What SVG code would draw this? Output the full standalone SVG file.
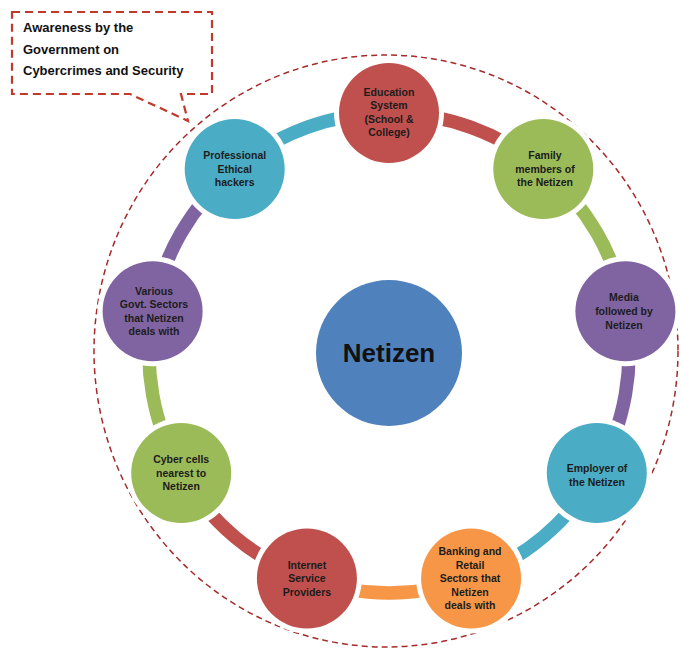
<svg xmlns="http://www.w3.org/2000/svg" width="681" height="651" viewBox="0 0 681 651">
<style>
.lbl{font-family:"Liberation Sans",Arial,sans-serif;font-weight:bold;font-size:10.5px;fill:#1c1c1c;text-anchor:middle}
.halo{fill:#ffffff}
.arc{fill:none;stroke-width:13.5}
.red{fill:#C0504D}.green{fill:#9BBB59}.purple{fill:#8064A2}.teal{fill:#4BACC6}.orange{fill:#F79646}
</style>
<rect width="681" height="651" fill="#ffffff"/>
<ellipse id="boundary" cx="386" cy="351" rx="292" ry="296" fill="none" stroke="#A52A2A" stroke-width="1.5" stroke-dasharray="6 4"/>
<g id="connectors">
<path class="arc" stroke="#4BACC6" d="M234.7,169.1 A240,240 0 0 1 389,113"/>
<path class="arc" stroke="#C0504D" d="M389,113 A240,240 0 0 1 543.3,169.1"/>
<path class="arc" stroke="#9BBB59" d="M543.3,169.1 A240,240 0 0 1 625.4,311.3"/>
<path class="arc" stroke="#8064A2" d="M625.4,311.3 A240,240 0 0 1 596.8,473"/>
<path class="arc" stroke="#4BACC6" d="M596.8,473 A240,240 0 0 1 471.1,578.5"/>
<path class="arc" stroke="#F79646" d="M471.1,578.5 A240,240 0 0 1 306.9,578.5"/>
<path class="arc" stroke="#C0504D" d="M306.9,578.5 A240,240 0 0 1 181.2,473"/>
<path class="arc" stroke="#9BBB59" d="M181.2,473 A240,240 0 0 1 152.6,311.3"/>
<path class="arc" stroke="#8064A2" d="M152.6,311.3 A240,240 0 0 1 234.7,169.1"/>
</g>
<g id="education">
<circle class="halo" cx="389" cy="113" r="55"/>
<circle class="red" cx="389" cy="113" r="50"/>
<text class="lbl"><tspan x="389" y="95.5">Education</tspan><tspan x="389" y="109">System</tspan><tspan x="389" y="122.5">(School &amp;</tspan><tspan x="389" y="136">College)</tspan></text>
</g>
<g id="family">
<circle class="halo" cx="543.3" cy="169.1" r="55"/>
<circle class="green" cx="543.3" cy="169.1" r="50"/>
<text class="lbl"><tspan x="545" y="159.1">Family</tspan><tspan x="545" y="172.7">members of</tspan><tspan x="545" y="186.3">the Netizen</tspan></text>
</g>
<g id="media">
<circle class="halo" cx="625.4" cy="311.3" r="55"/>
<circle class="purple" cx="625.4" cy="311.3" r="50"/>
<text class="lbl"><tspan x="624" y="301.3">Media</tspan><tspan x="624" y="314.9">followed by</tspan><tspan x="624" y="328.5">Netizen</tspan></text>
</g>
<g id="employer">
<circle class="halo" cx="596.8" cy="473" r="55"/>
<circle class="teal" cx="596.8" cy="473" r="50"/>
<text class="lbl"><tspan x="597" y="472">Employer of</tspan><tspan x="597" y="485.6">the Netizen</tspan></text>
</g>
<g id="banking">
<circle class="halo" cx="471.1" cy="578.5" r="55"/>
<circle class="orange" cx="471.1" cy="578.5" r="50"/>
<text class="lbl"><tspan x="470" y="555">Banking  and</tspan><tspan x="470" y="568.6">Retail</tspan><tspan x="470" y="582.2">Sectors that</tspan><tspan x="470" y="595.8">Netizen</tspan><tspan x="470" y="609.4">deals with</tspan></text>
</g>
<g id="internet">
<circle class="halo" cx="306.9" cy="578.5" r="55"/>
<circle class="red" cx="306.9" cy="578.5" r="50"/>
<text class="lbl"><tspan x="306.9" y="568.5">Internet</tspan><tspan x="306.9" y="582.1">Service</tspan><tspan x="306.9" y="595.7">Providers</tspan></text>
</g>
<g id="cybercells">
<circle class="halo" cx="181.2" cy="473" r="55"/>
<circle class="green" cx="181.2" cy="473" r="50"/>
<text class="lbl"><tspan x="181.2" y="463">Cyber cells</tspan><tspan x="181.2" y="476.6">nearest to</tspan><tspan x="181.2" y="490.2">Netizen</tspan></text>
</g>
<g id="govt">
<circle class="halo" cx="152.6" cy="311.3" r="55"/>
<circle class="purple" cx="152.6" cy="311.3" r="50"/>
<text class="lbl"><tspan x="154" y="294.5">Various</tspan><tspan x="154" y="308.1">Govt. Sectors</tspan><tspan x="154" y="321.7">that Netizen</tspan><tspan x="154" y="335.3">deals with</tspan></text>
</g>
<g id="hackers">
<circle class="halo" cx="234.7" cy="169.1" r="55"/>
<circle class="teal" cx="234.7" cy="169.1" r="50"/>
<text class="lbl"><tspan x="234.7" y="159.1">Professional</tspan><tspan x="234.7" y="172.7">Ethical</tspan><tspan x="234.7" y="186.3">hackers</tspan></text>
</g>
<g id="netizen">
<circle cx="389" cy="353" r="73" fill="#4F81BD"/>
<text x="389" y="362" font-family="'Liberation Sans',Arial,sans-serif" font-weight="bold" font-size="26" fill="#111111" text-anchor="middle">Netizen</text>
</g>
<g id="callout">
<path d="M12,12 H212 V94 H181 L188,121 L130,94 H12 Z" fill="#ffffff" stroke="#C0392B" stroke-width="2.2" stroke-dasharray="8 5"/>
<text font-family="'Liberation Sans',Arial,sans-serif" font-weight="bold" font-size="13" fill="#111111"><tspan x="23" y="32">Awareness by the</tspan><tspan x="23" y="53.5">Government on</tspan><tspan x="23" y="75">Cybercrimes and Security</tspan></text>
</g>
</svg>
